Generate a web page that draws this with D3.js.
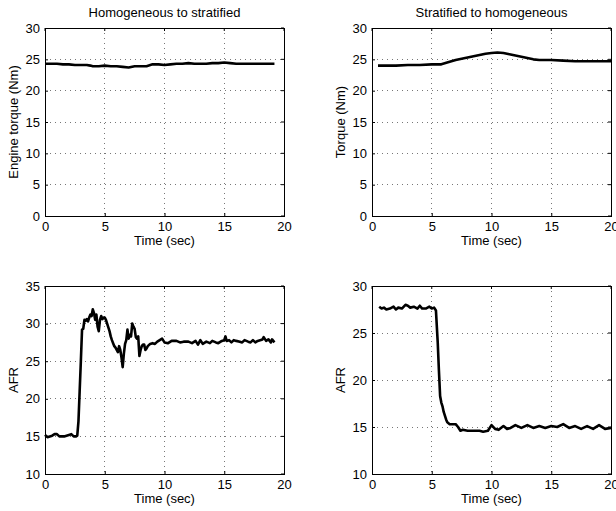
<!DOCTYPE html>
<html><head><meta charset="utf-8">
<script src="https://cdn.jsdelivr.net/npm/d3@7"></script>
<style>
body{margin:0;background:#fff;}
svg{display:block;}
text{font-family:"Liberation Sans",Arial,Helvetica,sans-serif;font-size:13px;fill:#000;}
</style></head><body>
<svg id="c" width="616" height="511"></svg>
<script>
// ---- data ----
const titles = ["Homogeneous to stratified", "Stratified to homogeneous"];
const yLabels = ["Engine torque (Nm)", "Torque (Nm)", "AFR", "AFR"];
const xLabel = "Time (sec)";
const xTicks = [0, 5, 10, 15, 20];
const yTicksTorque = [0, 5, 10, 15, 20, 25, 30];
const yTicksAfrL = [10, 15, 20, 25, 30, 35];
const yTicksAfrR = [10, 15, 20, 25, 30];

const torqueHS_t = [0,0.5,1,1.5,2,2.5,3,3.5,3.8,4,4.5,5,5.5,6,6.5,7,7.5,8,8.5,9,9.5,10,10.5,11,11.5,12,12.5,13,13.5,14,14.5,15,15.5,16,16.5,17,17.5,18,18.5,19,19.2];
const torqueHS_v = [24.3,24.3,24.3,24.2,24.2,24.1,24.1,24.1,24.0,23.9,23.9,24.0,23.9,23.9,23.8,23.7,23.9,23.9,23.9,24.2,24.2,24.1,24.2,24.3,24.3,24.4,24.3,24.3,24.3,24.4,24.4,24.5,24.4,24.3,24.3,24.3,24.3,24.3,24.3,24.3,24.3];

const torqueSH_t = [0.5,1,2,3,4,5,5.8,6.5,7,7.5,8,8.5,9,9.5,10,10.5,11,11.5,12,12.5,13,13.5,14,14.5,15,16,17,18,19,20];
const torqueSH_v = [24.0,24.0,24.0,24.1,24.1,24.2,24.2,24.6,24.9,25.1,25.3,25.5,25.7,25.9,26.0,26.1,26.0,25.8,25.6,25.4,25.2,25.0,24.9,24.9,24.9,24.8,24.7,24.7,24.7,24.7];

const afrHS_t = [0,0.2,0.4,0.6,0.8,1.0,1.2,1.4,1.6,1.8,2.0,2.2,2.4,2.6,2.7,2.8,2.9,3.0,3.1,3.2,3.3,3.4,3.5,3.6,3.7,3.8,3.9,4.0,4.1,4.2,4.3,4.4,4.5,4.6,4.7,4.8,4.9,5.0,5.1,5.2,5.3,5.4,5.5,5.6,5.7,5.8,5.9,6.0,6.1,6.2,6.3,6.4,6.5,6.6,6.7,6.8,6.9,7.0,7.1,7.2,7.3,7.4,7.5,7.6,7.7,7.8,7.9,8.0,8.1,8.2,8.3,8.4,8.5,8.6,8.8,9.0,9.2,9.4,9.6,9.8,10.0,10.3,10.6,11.0,11.3,11.6,12.0,12.3,12.6,12.8,13.0,13.2,13.5,13.8,14.0,14.3,14.5,14.8,15.0,15.1,15.2,15.4,15.6,15.8,16.0,16.3,16.5,16.7,17.0,17.2,17.4,17.6,17.8,18.0,18.2,18.3,18.5,18.7,18.9,19.0,19.2];
const afrHS_v = [15.2,14.9,15.0,15.1,15.3,15.3,15.0,15.0,15.0,15.1,15.2,15.3,15.0,15.0,15.1,17.0,21.0,25.0,29.2,29.3,30.5,30.4,30.6,30.3,30.8,31.2,31.0,31.9,31.4,30.5,31.2,29.6,29.0,30.5,31.0,30.6,30.8,30.8,30.5,30.0,29.5,29.0,28.3,27.8,27.4,27.0,26.8,26.5,26.2,27.0,26.5,25.5,24.2,26.0,27.3,27.8,29.2,28.0,28.5,28.3,30.0,29.6,29.3,28.2,28.0,28.3,25.7,26.5,27.0,27.2,27.2,26.5,26.7,27.0,27.3,27.4,27.3,27.6,27.8,28.0,27.5,27.4,27.7,27.7,27.5,27.6,27.6,27.4,27.7,27.2,27.8,27.3,27.6,27.4,27.7,27.5,27.4,27.7,27.8,28.3,27.7,27.8,27.5,27.8,27.7,27.6,27.5,27.8,27.6,27.5,27.8,27.5,27.7,27.8,27.9,28.2,27.7,27.9,27.5,27.9,27.5];

const afrSH_t = [0.6,0.8,1.0,1.2,1.5,1.8,2.0,2.2,2.5,2.8,3.0,3.2,3.5,3.8,4.0,4.2,4.5,4.8,5.0,5.2,5.35,5.5,5.6,5.7,5.8,5.9,6.0,6.1,6.2,6.3,6.5,6.8,7.0,7.2,7.4,7.6,8.0,8.5,9.0,9.3,9.7,10.0,10.3,10.6,11.0,11.3,11.6,12.0,12.5,13.0,13.5,14.0,14.5,15.0,15.5,16.0,16.5,17.0,17.5,18.0,18.5,19.0,19.5,20.0];
const afrSH_v = [27.8,27.6,27.7,27.5,27.6,27.8,27.5,27.7,27.6,28.0,27.9,27.7,27.8,27.6,27.9,27.6,27.6,27.8,27.6,27.7,27.4,24.0,21.0,18.3,17.6,17.2,16.6,16.2,15.8,15.5,15.3,15.3,15.3,15.0,14.6,14.7,14.6,14.6,14.6,14.5,14.6,15.2,14.8,14.7,15.1,14.8,14.9,15.2,14.9,15.2,14.9,15.1,14.9,15.1,15.0,15.3,14.9,15.1,14.8,15.1,14.8,15.2,14.8,14.9];

// ---- layout ----
const panels = [
  {x0:45, x1:284, y0:28, y1:216, ydom:[0,30], yt:yTicksTorque, t:torqueHS_t, v:torqueHS_v, title:titles[0], yl:yLabels[0], ylx:18},
  {x0:372, x1:611, y0:28, y1:216, ydom:[0,30], yt:yTicksTorque, t:torqueSH_t, v:torqueSH_v, title:titles[1], yl:yLabels[1], ylx:345},
  {x0:45, x1:284, y0:286, y1:474, ydom:[10,35], yt:yTicksAfrL, t:afrHS_t, v:afrHS_v, title:null, yl:yLabels[2], ylx:18},
  {x0:372, x1:611, y0:286, y1:474, ydom:[10,30], yt:yTicksAfrR, t:afrSH_t, v:afrSH_v, title:null, yl:yLabels[3], ylx:345}
];

const svg = d3.select("#c");
panels.forEach(p => {
  const x = d3.scaleLinear().domain([0,20]).range([p.x0,p.x1]);
  const y = d3.scaleLinear().domain(p.ydom).range([p.y1,p.y0]);
  const g = svg.append("g");
  // grid
  g.selectAll(".gx").data(xTicks.slice(1,-1)).join("line")
    .attr("x1",d=>x(d)).attr("x2",d=>x(d)).attr("y1",p.y0).attr("y2",p.y1)
    .attr("stroke","#777").attr("stroke-width",1).attr("stroke-dasharray","1,4").attr("shape-rendering","crispEdges");
  g.selectAll(".gy").data(p.yt.slice(1,-1)).join("line")
    .attr("y1",d=>y(d)).attr("y2",d=>y(d)).attr("x1",p.x0).attr("x2",p.x1)
    .attr("stroke","#777").attr("stroke-width",1).attr("stroke-dasharray","1,4").attr("shape-rendering","crispEdges");
  // line
  const data = p.t.map((t,i)=>[t,p.v[i]]);
  g.append("path").datum(data)
    .attr("d", d3.line().x(d=>x(d[0])).y(d=>y(d[1])))
    .attr("fill","none").attr("stroke","#000").attr("stroke-width",2.6).attr("stroke-linejoin","round");
  // axes (inward ticks)
  const ax = d3.axisBottom(x).tickValues(xTicks).tickSize(-3).tickPadding(6).tickFormat(d3.format("d"));
  const gx = g.append("g").attr("transform",`translate(0,${p.y1})`).call(ax);
  const ay = d3.axisLeft(y).tickValues(p.yt).tickSize(-3).tickPadding(5).tickFormat(d3.format("d"));
  const gy = g.append("g").attr("transform",`translate(${p.x0},0)`).call(ay);
  [gx,gy].forEach(a=>{
    a.select(".domain").remove();
    a.selectAll("line").attr("stroke","#000");
    a.selectAll("text").style("font-size","13px").attr("fill","#000");
  });
  // top/right ticks
  g.selectAll(".tt").data(xTicks).join("line")
    .attr("x1",d=>x(d)).attr("x2",d=>x(d)).attr("y1",p.y0).attr("y2",p.y0+3).attr("stroke","#000");
  g.selectAll(".tr").data(p.yt).join("line")
    .attr("y1",d=>y(d)).attr("y2",d=>y(d)).attr("x1",p.x1).attr("x2",p.x1-3).attr("stroke","#000");
  // box
  g.append("rect").attr("x",p.x0).attr("y",p.y0).attr("width",p.x1-p.x0).attr("height",p.y1-p.y0)
    .attr("fill","none").attr("stroke","#000").attr("stroke-width",1).attr("shape-rendering","crispEdges");
  // labels
  g.append("text").attr("x",(p.x0+p.x1)/2).attr("y",p.y1+29).attr("text-anchor","middle").text(xLabel);
  g.append("text").attr("transform",`translate(${p.ylx},${(p.y0+p.y1)/2}) rotate(-90)`)
    .attr("text-anchor","middle").text(p.yl);
  if (p.title) g.append("text").attr("x",(p.x0+p.x1)/2).attr("y",p.y0-11).attr("text-anchor","middle").text(p.title);
});
</script>
</body></html>
